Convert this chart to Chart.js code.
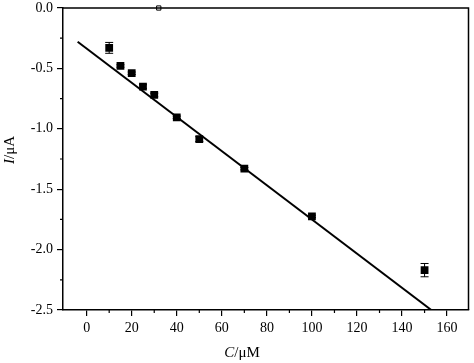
<!DOCTYPE html>
<html>
<head>
<meta charset="utf-8">
<script src="https://cdn.jsdelivr.net/npm/chart.js@4"></script>
<style>
  html, body { margin: 0; padding: 0; background: #fff; }
  #wrap { width: 474px; height: 363px; }
</style>
</head>
<body>
<div id="wrap"><canvas id="cv"></canvas></div>
<script>
// measured points (C in uM, I in uA) with error bars
const conc = [10, 15, 20, 25, 30, 40, 50, 70, 100, 150];
const current = [-0.33, -0.48, -0.54, -0.65, -0.72, -0.905, -1.085, -1.33, -1.725, -2.17];
const errs = [0.045, 0.01, 0.01, 0.015, 0.015, 0.01, 0.02, 0.01, 0.01, 0.055];

// fitted line end points
const fitX = [-4, 153];
const fitY = [-0.28, -2.5];

// odd little hollow marker on the top border
const strayX = [32];
const strayY = [0];

const xTicks = [0, 20, 40, 60, 80, 100, 120, 140, 160];
const yTicks = [-2.5, -2.0, -1.5, -1.0, -0.5, 0.0];

const serif = "'Liberation Serif', 'DejaVu Serif', serif";

const extras = {
  id: 'extras',
  afterDatasetsDraw(chart) {
    const ctx = chart.ctx;
    const a = chart.chartArea;
    const xs = chart.scales.x, ys = chart.scales.y;
    ctx.save();
    ctx.strokeStyle = '#000';
    ctx.lineWidth = 1.5;
    // frame top + right
    ctx.beginPath();
    ctx.moveTo(a.left, a.top);
    ctx.lineTo(a.right, a.top);
    ctx.lineTo(a.right, a.bottom);
    ctx.stroke();
    // minor ticks
    ctx.lineWidth = 1.2;
    ctx.beginPath();
    for (let v = 10; v <= 170; v += 20) {
      const px = xs.getPixelForValue(v);
      if (px > a.right) continue;
      ctx.moveTo(px, a.bottom);
      ctx.lineTo(px, a.bottom + 3);
    }
    for (let v = -2.25; v < 0; v += 0.5) {
      const py = ys.getPixelForValue(v);
      ctx.moveTo(a.left, py);
      ctx.lineTo(a.left - 3, py);
    }
    ctx.stroke();
    // error bars
    ctx.lineWidth = 1;
    conc.forEach((c, i) => {
      const px = xs.getPixelForValue(c);
      const top = ys.getPixelForValue(current[i] + errs[i]);
      const bot = ys.getPixelForValue(current[i] - errs[i]);
      ctx.beginPath();
      ctx.moveTo(px, top); ctx.lineTo(px, bot);
      ctx.moveTo(px - 4, top); ctx.lineTo(px + 4, top);
      ctx.moveTo(px - 4, bot); ctx.lineTo(px + 4, bot);
      ctx.stroke();
    });
    // axis titles with italic symbol
    ctx.fillStyle = '#000';
    ctx.textBaseline = 'middle';
    const drawTitle = (sym, rest, cx, cy) => {
      ctx.font = 'italic 15px ' + serif;
      const w1 = ctx.measureText(sym).width;
      ctx.font = '15px ' + serif;
      const w2 = ctx.measureText(rest).width;
      let x0 = cx - (w1 + w2) / 2;
      ctx.textAlign = 'left';
      ctx.font = 'italic 15px ' + serif;
      ctx.fillText(sym, x0, cy);
      ctx.font = '15px ' + serif;
      ctx.fillText(rest, x0 + w1, cy);
    };
    drawTitle('C', '/\u03bcM', 242, 353);
    ctx.translate(10, 150);
    ctx.rotate(-Math.PI / 2);
    drawTitle('I', '/\u03bcA', 0, 0);
    ctx.restore();
  }
};

const noPad = s => { s.paddingTop = 0; s.paddingBottom = 0; s.paddingLeft = 0; s.paddingRight = 0; };

new Chart(document.getElementById('cv'), {
  type: 'scatter',
  data: {
    datasets: [
      {
        type: 'line',
        data: fitX.map((x, i) => ({ x: x, y: fitY[i] })),
        borderColor: '#000',
        borderWidth: 2,
        pointRadius: 0,
        fill: false
      },
      {
        data: conc.map((c, i) => ({ x: c, y: current[i] })),
        pointStyle: 'rect',
        pointRadius: 5.5,
        backgroundColor: '#000',
        borderColor: '#000',
        borderWidth: 0
      },
      {
        data: strayX.map((x, i) => ({ x: x, y: strayY[i] })),
        pointStyle: 'rect',
        pointRadius: 3,
        backgroundColor: '#fff',
        borderColor: '#000',
        borderWidth: 1,
        clip: false
      }
    ]
  },
  options: {
    responsive: true,
    maintainAspectRatio: false,
    animation: false,
    layout: { padding: { top: 8, right: 3, left: 0, bottom: 0 } },
    plugins: { legend: { display: false }, tooltip: { enabled: false } },
    scales: {
      x: {
        type: 'linear',
        min: -10.5,
        max: 169.5,
        afterBuildTicks: s => { s.ticks = xTicks.map(v => ({ value: v })); },
        afterFit: s => { s.height = 53; noPad(s); },
        grid: { drawOnChartArea: false, drawTicks: true, tickLength: 6, color: '#000', lineWidth: 1.2 },
        border: { display: true, color: '#000', width: 1.5 },
        ticks: { color: '#000', padding: 4, maxRotation: 0, font: { family: serif, size: 14 } }
      },
      y: {
        min: -2.5,
        max: 0,
        afterBuildTicks: s => { s.ticks = yTicks.map(v => ({ value: v })); },
        afterFit: s => { s.width = 63; noPad(s); },
        grid: { drawOnChartArea: false, drawTicks: true, tickLength: 6, color: '#000', lineWidth: 1.2 },
        border: { display: true, color: '#000', width: 1.5 },
        ticks: { color: '#000', padding: 4, font: { family: serif, size: 14 }, callback: v => v.toFixed(1) }
      }
    }
  },
  plugins: [extras]
});
</script>
</body>
</html>
